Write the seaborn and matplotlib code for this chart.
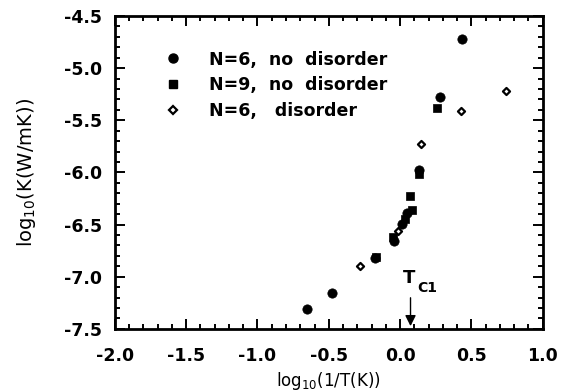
import numpy as np
import pandas as pd
import matplotlib
matplotlib.use('Agg')
import matplotlib.pyplot as plt
import seaborn as sns
from matplotlib.ticker import MultipleLocator
from matplotlib.lines import Line2D

#%% Data
n6_x = [-0.654, -0.476, -0.175, -0.044, 0.010, 0.045, 0.134, 0.283, 0.435]
n6_y = [-7.31, -7.16, -6.82, -6.66, -6.49, -6.39, -5.98, -5.28, -4.72]
n9_x = [-0.170, -0.049, 0.033, 0.080, 0.068, 0.134, 0.260]
n9_y = [-6.81, -6.62, -6.45, -6.36, -6.23, -6.01, -5.38]
dis_x = [-0.282, -0.018, 0.145, 0.430, 0.740]
dis_y = [-6.90, -6.56, -5.73, -5.41, -5.22]
labels = ['N=6,  no  disorder', 'N=9,  no  disorder', 'N=6,   disorder']
tc1_x = 0.073

df = pd.concat([
    pd.DataFrame({'x': n6_x, 'y': n6_y, 'set': labels[0]}),
    pd.DataFrame({'x': n9_x, 'y': n9_y, 'set': labels[1]}),
    pd.DataFrame({'x': dis_x, 'y': dis_y, 'set': labels[2]}),
])

sns.set_style('ticks')
plt.rcParams['font.family'] = ['DejaVu Sans']
plt.rcParams['text.color'] = 'black'
plt.rcParams['axes.labelcolor'] = 'black'
plt.rcParams['xtick.color'] = 'black'
plt.rcParams['ytick.color'] = 'black'

fig = plt.figure(figsize=(5.63, 3.92), dpi=100)
ax = fig.add_axes([0.204, 0.161, 0.760, 0.798])

# filled circles and squares
sns.scatterplot(data=df[df['set'] == labels[0]], x='x', y='y', ax=ax,
                marker='o', s=45, color='black', edgecolor='black', linewidth=0.5,
                legend=False)
sns.scatterplot(data=df[df['set'] == labels[1]], x='x', y='y', ax=ax,
                marker='s', s=36, color='black', edgecolor='black', linewidth=0.5,
                legend=False)
# open diamonds
sns.scatterplot(data=df[df['set'] == labels[2]], x='x', y='y', ax=ax,
                marker='D', s=13, facecolor='white', edgecolor='black',
                linewidth=1.6, legend=False)

ax.set_xlim(-2.0, 1.0)
ax.set_ylim(-7.5, -4.5)
ax.xaxis.set_major_locator(MultipleLocator(0.5))
ax.xaxis.set_minor_locator(MultipleLocator(0.1))
ax.yaxis.set_major_locator(MultipleLocator(0.5))
ax.yaxis.set_minor_locator(MultipleLocator(0.1))
ax.xaxis.set_major_formatter(plt.FuncFormatter(lambda v, p: f'{v:.1f}'))
ax.yaxis.set_major_formatter(plt.FuncFormatter(lambda v, p: f'{v:.1f}'))

ax.tick_params(which='both', direction='in', top=True, right=True,
               width=1.4, color='black', labelcolor='black')
ax.tick_params(which='major', length=7, labelsize=12.5)
ax.tick_params(axis='x', which='major', pad=13)
ax.tick_params(axis='y', which='major', pad=9)
ax.tick_params(which='minor', length=3.5)
for lab in ax.get_xticklabels() + ax.get_yticklabels():
    lab.set_fontweight('bold')
for sp in ax.spines.values():
    sp.set_linewidth(2.0)
    sp.set_color('black')

ax.set_xlabel('log$_{10}$(1/T(K))', fontsize=12, labelpad=4)
ax.set_ylabel('log$_{10}$(K(W/mK))', fontsize=14, labelpad=19)

# Tc1 arrow
ax.annotate('', xy=(tc1_x, -7.5), xytext=(tc1_x, -7.175),
            arrowprops=dict(arrowstyle='-|>', color='black', lw=1.0,
                            mutation_scale=16))
ax.text(0.019, -7.06, 'T', fontsize=13, fontweight='bold',
        ha='left', va='baseline')
ax.text(0.117, -7.146, 'C1', fontsize=10, fontweight='bold',
        ha='left', va='baseline')

handles = [
    Line2D([], [], marker='o', ls='', color='black', markersize=6.5),
    Line2D([], [], marker='s', ls='', color='black', markersize=5.6),
    Line2D([], [], marker='D', ls='', markerfacecolor='white',
           markeredgecolor='black', markeredgewidth=1.6, markersize=3.6),
]
leg = ax.legend(handles, labels, loc='upper left', bbox_to_anchor=(0.095, 0.912),
                frameon=False, handlelength=1.2, handletextpad=1.5,
                labelspacing=0.45, borderaxespad=0,
                prop={'weight': 'bold', 'size': 12.5})
for t in leg.get_texts():
    t.set_color('black')

fig.savefig('out.png', dpi=100)
